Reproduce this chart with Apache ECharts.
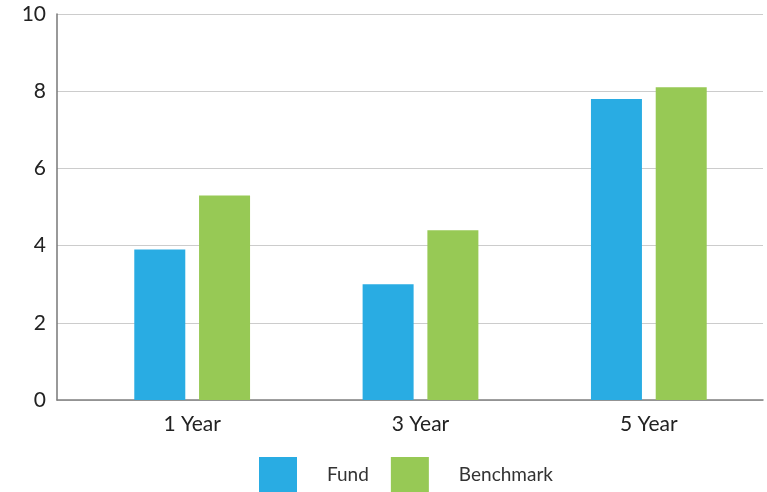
<!DOCTYPE html>
<html>
<head>
<meta charset="utf-8">
<script src="https://cdn.jsdelivr.net/npm/echarts@6/dist/echarts.min.js"></script>
<style>
  html, body { margin: 0; padding: 0; background: #fff; }
  #chart { width: 767px; height: 492px; }
</style>
</head>
<body>
<div id="chart"></div>
<script>
const categories = ['1 Year', '3 Year', '5 Year'];
const fund = [3.9, 3.0, 7.8];
const benchmark = [5.3, 4.4, 8.1];

const chart = echarts.init(document.getElementById('chart'));
const font = 'Lato, "Open Sans", sans-serif';

chart.setOption({
  animation: false,
  textStyle: { fontFamily: font },
  legend: {
    data: ['Fund', 'Benchmark'],
    left: 259, top: 457, padding: 0,
    itemWidth: 38, itemHeight: 35, itemGap: 22,
    icon: 'rect',
    textStyle: { fontSize: 19, color: '#333', padding: [10, 0, 0, 25] }
  },
  grid: [
    { left: 57, right: 4, top: 14, bottom: 92 },
    { left: 78, right: 4, top: 14, bottom: 92 }
  ],
  xAxis: [
    {
      gridIndex: 0, type: 'value', min: 0, max: 1,
      axisLine: { show: true, lineStyle: { color: '#808080', width: 1.5 } },
      axisTick: { show: false }, axisLabel: { show: false }, splitLine: { show: false }
    },
    {
      gridIndex: 1, type: 'category', data: categories,
      axisLine: { show: false }, axisTick: { show: false },
      axisLabel: { fontSize: 21, color: '#222', margin: 14 }
    }
  ],
  yAxis: [
    {
      gridIndex: 0, type: 'value', min: 0, max: 10, interval: 2,
      axisLine: { show: true, lineStyle: { color: '#777', width: 1.5 } },
      axisTick: { show: false },
      axisLabel: { fontSize: 21, color: '#222', margin: 11 },
      splitLine: { lineStyle: { color: '#cccccc', width: 1 } }
    },
    {
      gridIndex: 1, type: 'value', min: 0, max: 10, show: false
    }
  ],
  series: [
    {
      name: 'Fund', type: 'bar', xAxisIndex: 1, yAxisIndex: 1,
      data: fund, barWidth: 51, barGap: '27%',
      itemStyle: { color: '#29ACE3' }
    },
    {
      name: 'Benchmark', type: 'bar', xAxisIndex: 1, yAxisIndex: 1,
      data: benchmark, barWidth: 51,
      itemStyle: { color: '#97C955' }
    }
  ]
});
</script>
</body>
</html>
